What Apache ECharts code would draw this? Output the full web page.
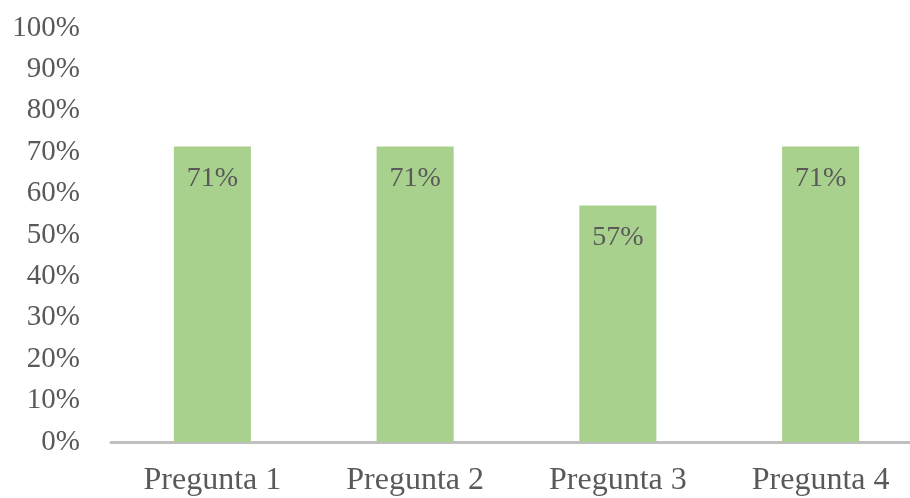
<!DOCTYPE html>
<html>
<head>
<meta charset="utf-8">
<script src="https://cdn.jsdelivr.net/npm/echarts@6/dist/echarts.min.js"></script>
<style>
  html, body { margin: 0; padding: 0; background: #fff; }
  #chart { width: 910px; height: 498px; }
</style>
</head>
<body>
<div id="chart"></div>
<script>
// categorias y valores
const categories = ["Pregunta 1", "Pregunta 2", "Pregunta 3", "Pregunta 4"];
const values = [0.714, 0.714, 0.571, 0.714];

const font = "'Liberation Serif', 'Times New Roman', serif";
const chart = echarts.init(document.getElementById("chart"));

chart.setOption({
  animation: false,
  grid: { left: 111, right: -12, top: 28, bottom: 56, outerBoundsMode: "none" },
  xAxis: {
    type: "category",
    data: categories,
    axisLine: { lineStyle: { color: "#BFBFBF", width: 3 } },
    axisTick: { show: false },
    axisLabel: { color: "#595959", fontFamily: font, fontSize: 32, margin: 23 },
  },
  yAxis: {
    type: "value",
    min: 0,
    max: 1,
    interval: 0.1,
    splitLine: { show: false },
    axisLine: { show: false },
    axisTick: { show: false },
    axisLabel: {
      color: "#595959",
      fontFamily: font,
      fontSize: 29,
      margin: 31,
      formatter: (v) => Math.round(v * 100) + "%",
    },
  },
  series: [
    {
      type: "bar",
      data: values,
      barWidth: "38%",
      itemStyle: { color: "#A9D18E" },
      label: {
        show: true,
        position: "insideTop",
        distance: 18,
        color: "#595959",
        fontFamily: font,
        fontSize: 28,
        formatter: (p) => Math.round(p.value * 100) + "%",
      },
    },
  ],
});
</script>
</body>
</html>
